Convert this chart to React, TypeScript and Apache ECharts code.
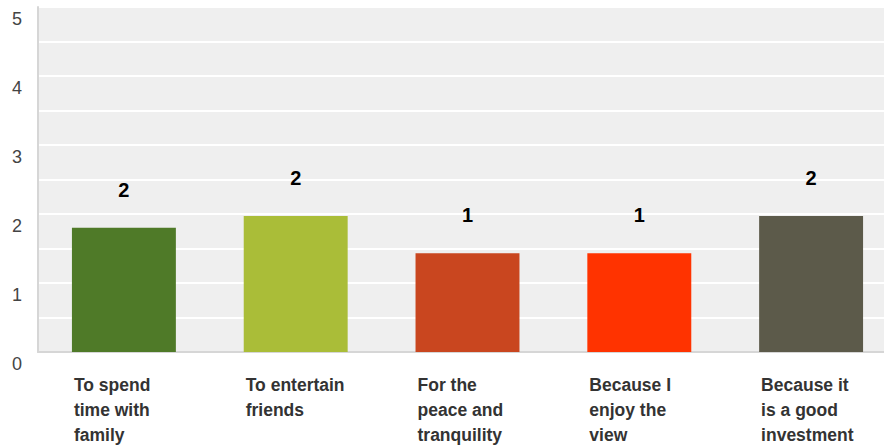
import React, { useEffect, useRef } from "react";
import * as echarts from "echarts";

const categories = [
  "To spend\ntime with\nfamily",
  "To entertain\nfriends",
  "For the\npeace and\ntranquility",
  "Because I\nenjoy the\nview",
  "Because it\nis a good\ninvestment",
];
const values = [1.8, 1.97, 1.43, 1.43, 1.97];
const valueLabels = ["2", "2", "1", "1", "2"];
const colors = ["#4f7a28", "#aabd38", "#c9461f", "#ff3300", "#5c5a4a"];

export default function App() {
  const ref = useRef<HTMLDivElement>(null);
  useEffect(() => {
    if (!ref.current) return;
    const chart = echarts.init(ref.current, undefined, { renderer: "svg" });
    chart.setOption({
      animation: false,
      textStyle: { fontFamily: "Liberation Sans, Arial, sans-serif" },
      grid: {
        left: 38,
        right: 3,
        top: 7,
        bottom: 96,
        containLabel: false,
        show: true,
        backgroundColor: "#efefef",
        borderWidth: 0,
      },
      xAxis: {
        type: "category",
        data: categories,
        axisTick: { show: false },
        axisLine: { show: true, lineStyle: { color: "#d6d6d6", width: 2 } },
        axisLabel: {
          interval: 0,
          margin: 20,
          align: "center",
          width: 100,
          formatter: (v: string) =>
            v.split("\n").map((l) => `{l|${l}}`).join("\n"),
          rich: {
            l: {
              align: "left",
              fontSize: 17.5,
              fontWeight: "bold",
              color: "#333333",
              lineHeight: 25,
              fontFamily: "Liberation Sans, Arial, sans-serif",
            },
          },
        },
      },
      yAxis: {
        type: "value",
        min: 0,
        max: 5,
        interval: 0.5,
        axisLine: { show: true, lineStyle: { color: "#d6d6d6", width: 2 } },
        axisTick: { show: false },
        splitLine: { show: true, lineStyle: { color: "#ffffff", width: 2 } },
        axisLabel: {
          margin: 16,
          fontSize: 18,
          color: "#444444",
          verticalAlign: "top",
          lineHeight: 23,
          formatter: (v: number) => (Number.isInteger(v) ? String(v) : ""),
        },
      },
      series: [
        {
          type: "bar",
          barWidth: "60.5%",
          data: values.map((v, i) => ({
            value: v,
            itemStyle: { color: colors[i] },
          })),
          label: {
            show: true,
            position: "top",
            distance: 28,
            fontSize: 20,
            fontWeight: "bold",
            color: "#000000",
            formatter: (p: any) => valueLabels[p.dataIndex],
          },
        },
      ],
    });
    return () => chart.dispose();
  }, []);
  return (
    <div
      style={{
        position: "absolute",
        left: 0,
        top: 0,
        width: 884,
        height: 448,
        overflow: "hidden",
      }}
    >
      <div ref={ref} style={{ width: 900, height: 448 }} />
    </div>
  );
}
